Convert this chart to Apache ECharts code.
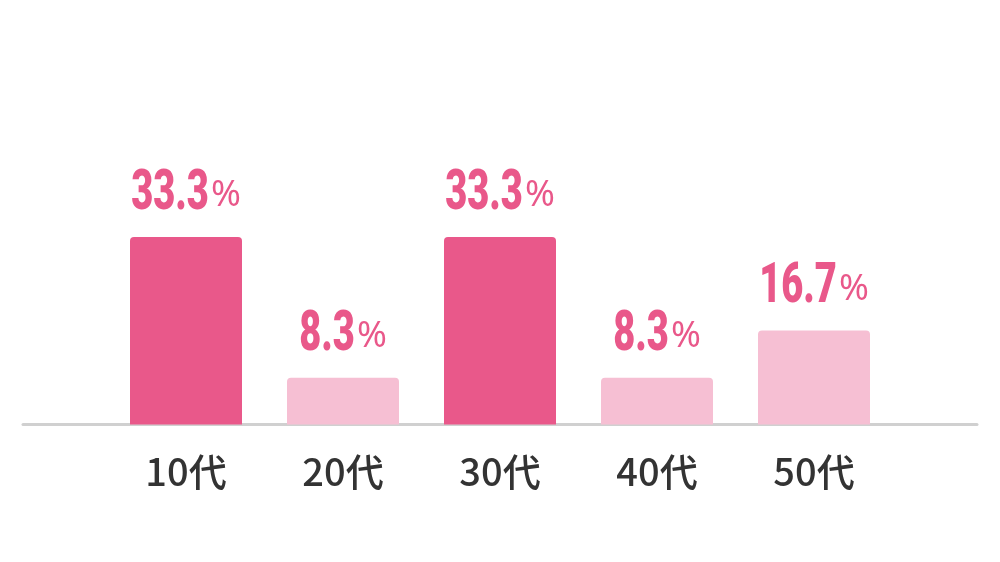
<!DOCTYPE html>
<html><head><meta charset="utf-8">
<script src="https://cdn.jsdelivr.net/npm/echarts@6/dist/echarts.min.js"></script>
<style>html,body{margin:0;padding:0;background:#fff}#c{width:1000px;height:562px}</style>
</head><body><div id="c"></div>
<script>
const categories = ['10代','20代','30代','40代','50代'];
const values = [33.3, 8.3, 33.3, 8.3, 16.7];
const highlight = [true, false, true, false, false];

const dark = '#E9588A', light = '#F6BFD3';
const numFont = '900 56px Roboto';
const pctFont = '36px "Noto Sans"';
const numScale = 0.68;
const mctx = document.createElement('canvas').getContext('2d');
function tw(font, t){ mctx.font = font; return mctx.measureText(t).width; }

const chart = echarts.init(document.getElementById('c'));
chart.setOption({
  animation: false,
  grid: [
    {left: 107.5, right: 107.5, top: 143, bottom: 137.5},
    {left: 23, right: 23, top: 143, bottom: 137.5}
  ],
  xAxis: [
    {type: 'category', data: categories, gridIndex: 0,
     axisLine: {show: false}, axisTick: {show: false},
     axisLabel: {color: '#333', fontSize: 38, fontFamily: 'Noto Sans CJK JP', fontWeight: 500, margin: 28}},
    {type: 'category', data: [''], gridIndex: 1,
     axisLine: {show: true, lineStyle: {color: '#d0d0d0', width: 3}}, axisTick: {show: false}, axisLabel: {show: false}}
  ],
  yAxis: [
    {type: 'value', min: 0, max: 50, gridIndex: 0, show: false, splitLine: {show: false}},
    {type: 'value', min: 0, max: 50, gridIndex: 1, show: false, splitLine: {show: false}}
  ],
  series: [{
    type: 'bar', xAxisIndex: 0, yAxisIndex: 0, barWidth: 112, z: 3,
    data: values.map((v, i) => ({value: v, itemStyle: {color: highlight[i] ? dark : light, borderRadius: [4,4,0,0]}}))
  }, {
    type: 'custom', xAxisIndex: 0, yAxisIndex: 0, z: 5,
    data: values.map((v, i) => [i, v]),
    renderItem: function(params, api){
      const pt = api.coord([api.value(0), api.value(1)]);
      const num = api.value(1).toFixed(1);
      const nw = tw(numFont, num) * numScale;
      const pw = tw(pctFont, '%');
      const gap = 2;
      const total = nw + gap + pw;
      const left = pt[0] - total / 2;
      return {type: 'group', children: [
        {type: 'text', x: left, y: pt[1] - 70, scaleX: numScale,
         style: {text: num, font: numFont, fill: dark, align: 'left', verticalAlign: 'top'}},
        {type: 'text', x: left + nw + gap, y: pt[1] - 59,
         style: {text: '%', font: pctFont, fill: dark, align: 'left', verticalAlign: 'top'}}
      ]};
    }
  }]
});
</script></body></html>
